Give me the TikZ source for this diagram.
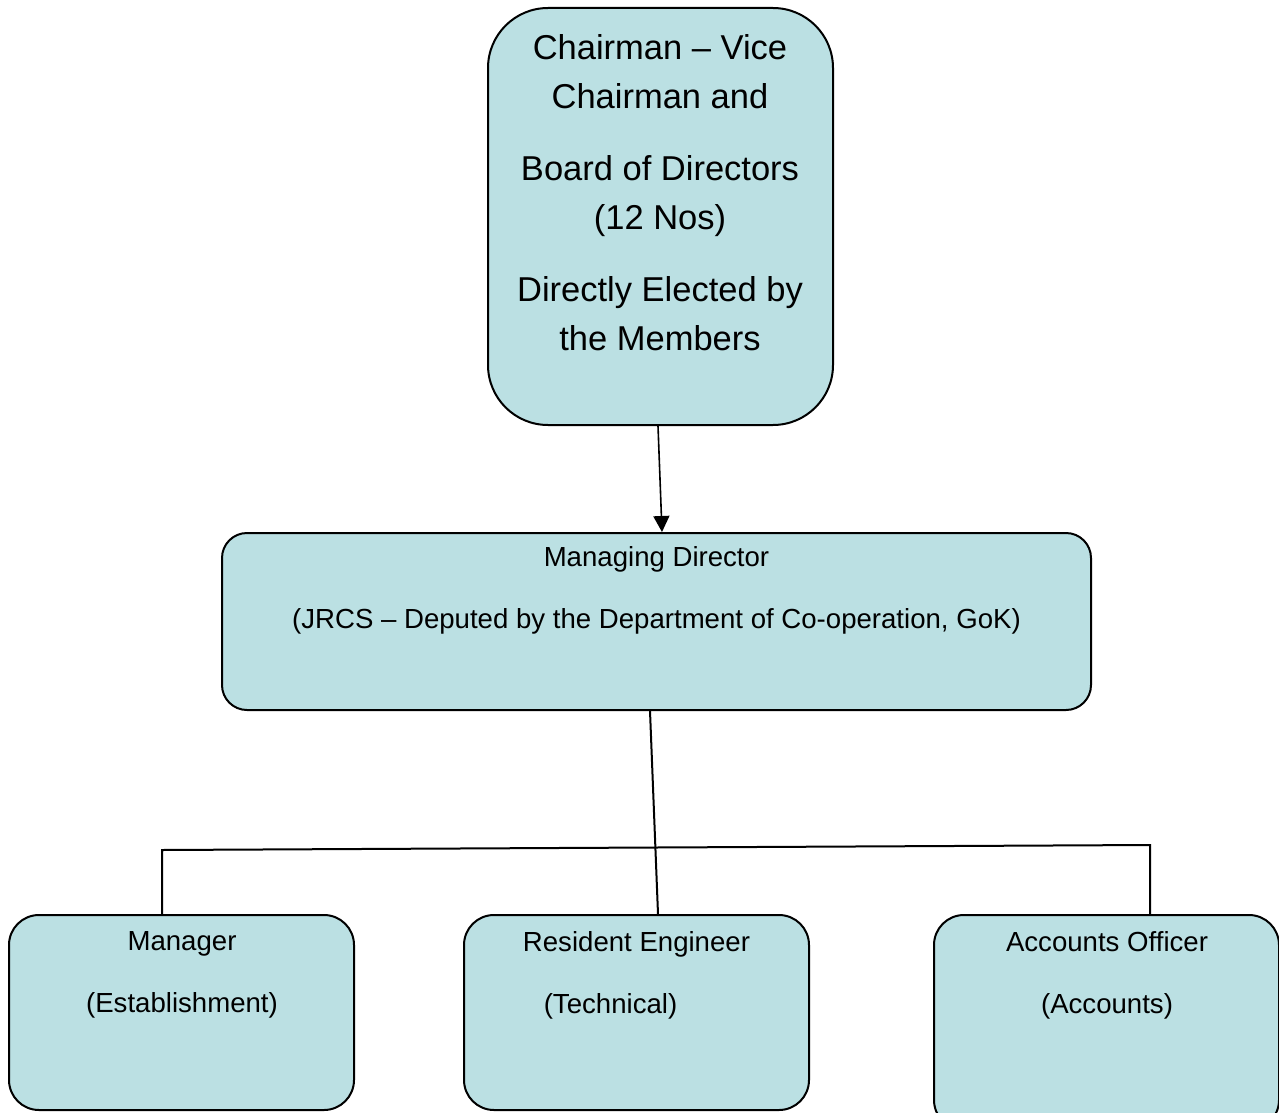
\documentclass[tikz,border=0pt]{standalone}
\usepackage{fontspec}
\setmainfont{Liberation Sans}
\usepackage{xcolor}
\usepackage{tikz}
\usetikzlibrary{arrows.meta}
\definecolor{boxfill}{RGB}{187,224,227}

\begin{document}
\begin{tikzpicture}[x=0.5pt, y=-0.5pt,
  box/.style={draw, line width=1pt, fill=boxfill, inner sep=0pt},
  bigtext/.style={align=center, inner sep=0pt, anchor=north, font=\fontsize{17.25pt}{24.5pt}\selectfont},
  smalltext/.style={align=center, inner sep=0pt, anchor=north, font=\fontsize{13.8pt}{31pt}\selectfont},
  link/.style={line width=1pt},
  arrow/.style={line width=0.8pt, -{Triangle[length=8pt, width=8pt]}}]
  \useasboundingbox (0,0) rectangle (1279,1113);

  % Board box
  \node[box, rounded corners=30pt, minimum width=172.5pt, minimum height=208.5pt] (board) at (660.5,216.5) {};
  \node[bigtext] (boardtext) at (660,34) {Chairman -- Vice\\Chairman and\\[11.5pt]Board of Directors\\(12 Nos)\\[11.5pt]Directly Elected by\\the Members};

  % Managing director box
  \node[box, rounded corners=12.5pt, minimum width=434.5pt, minimum height=88.5pt] (md) at (656.5,621.5) {};
  \node[smalltext] (mdtext) at (656.5,546) {Managing Director\\(JRCS -- Deputed by the Department of Co-operation, GoK)};

  % Bottom row boxes
  \node[box, rounded corners=15pt, minimum width=172.5pt, minimum height=97.5pt] (mgr) at (181.5,1012.5) {};
  \node[box, rounded corners=15pt, minimum width=172.5pt, minimum height=97.5pt] (re) at (636.5,1012.5) {};
  \node[box, rounded corners=15pt, minimum width=172.5pt, minimum height=107.5pt] (ao) at (1106.5,1022.5) {};

  \node[smalltext] (mgrtext) at (182,931) {Manager\\(Establishment)};
  \node[smalltext] (retext) at (636.5,931) {Resident Engineer\\(Technical)\hspace*{26pt}};
  \node[smalltext] (aotext) at (1107,931) {Accounts Officer\\(Accounts)};

  % Connectors
  \draw[arrow] ([xshift=-1.25pt]board.south) -- ([xshift=2.75pt]md.north);
  \draw[link] ([xshift=-3.25pt]md.south) -- ([xshift=10.75pt]re.north);

  \coordinate (jl) at (162,850);
  \coordinate (jr) at (1150,845);
  \draw[link] ([xshift=-9.75pt]mgr.north) -- (jl) -- (jr) -- ([xshift=21.75pt]ao.north);
\end{tikzpicture}
\end{document}
